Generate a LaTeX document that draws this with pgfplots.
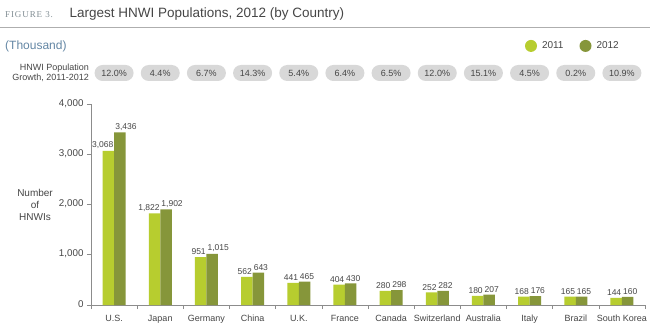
\documentclass[border=0pt]{standalone}
\usepackage{pgfplots}
\pgfplotsset{compat=1.18}
\usepackage{fontspec}
\setmainfont{Liberation Sans}
\newfontfamily\serifcaps[LetterSpace=10]{Liberation Serif}
\definecolor{cA}{RGB}{183,205,47}
\definecolor{cB}{RGB}{134,150,58}
\definecolor{axisgray}{RGB}{140,140,140}
\definecolor{txt}{RGB}{70,70,70}
\definecolor{pill}{RGB}{216,216,216}
\definecolor{thblue}{RGB}{100,135,165}
\definecolor{figgray}{RGB}{130,142,148}
\begin{document}
\begin{tikzpicture}
\useasboundingbox (0,0) rectangle (650pt,-336pt);
\fill[white] (0,0) rectangle (650pt,-336pt);
\node[anchor=west, text=figgray, font=\serifcaps\fontsize{9}{10}\selectfont, inner sep=0pt] at (5pt,-15pt) {FIGURE 3.};
\node[anchor=west, text=txt, font=\fontsize{13.5}{16}\selectfont] at (66pt,-14pt) {Largest HNWI Populations, 2012 (by Country)};
\draw[axisgray!70, line width=0.6pt] (0,-27pt) -- (650pt,-27pt);
\node[anchor=west, text=thblue, font=\fontsize{12}{14}\selectfont, inner sep=0pt] at (5pt,-46pt) {(Thousand)};
\node[anchor=east, align=right, text=txt, font=\fontsize{9}{10.5}\selectfont, inner sep=0pt] at (89pt,-73pt) {HNWI Population\\Growth, 2011-2012};
\begin{axis}[
  at={(91pt,-305pt)}, anchor=south west, scale only axis,
  width=554pt, height=201pt,
  xmin=-0.5, xmax=11.5, ymin=0, ymax=4000,
  axis lines*=left, clip=false,
  axis line style={axisgray, line width=0.6pt},
  xtick={-0.5,0.5,1.5,2.5,3.5,4.5,5.5,6.5,7.5,8.5,9.5,10.5,11.5},
  x tick label as interval,
  xticklabels={U.S.,Japan,Germany,China,U.K.,France,Canada,Switzerland,Australia,Italy,Brazil,South Korea},
  typeset ticklabels with strut,
  ytick={0,1000,2000,3000,4000},
  tick align=outside, major tick length=4pt,
  tick style={axisgray, line width=0.6pt},
  /pgf/number format/.cd, 1000 sep={,}, assume math mode=true, /pgfplots/.cd,
  x tick label style={font=\fontsize{9}{10}\selectfont, text=txt, yshift=-2pt},
  y tick label style={font=\fontsize{9.8}{11}\selectfont, text=txt},
  ylabel={Number\\of\\HNWIs},
  ylabel style={at={(axis description cs:-0.101,0.5)}, rotate=-90, anchor=center, align=center, font=\fontsize{10}{12}\selectfont, text=txt},
  legend style={at={(axis description cs:0.962,1.289)}, anchor=east, draw=none, fill=none, legend columns=2, font=\fontsize{10}{12}\selectfont, text=txt,
    /tikz/every odd column/.append style={column sep=3pt},
    /tikz/every even column/.append style={column sep=14pt}},
]
\addplot[ybar, bar width=11.5pt, bar shift=-5.75pt, fill=cA, draw=none,
  nodes near coords, nodes near coords style={anchor=south east, xshift=-0.5pt, font=\fontsize{8.5}{10}\selectfont, text=txt, inner xsep=0pt, inner ysep=2pt},
  legend image code/.code={\fill[cA] (4pt,0) circle (6pt);}]
coordinates {(0,3068) (1,1822) (2,951) (3,562) (4,441) (5,404) (6,280) (7,252) (8,180) (9,168) (10,165) (11,144)};
\addlegendentry{2011}
\addplot[ybar, bar width=11.5pt, bar shift=5.75pt, fill=cB, draw=none,
  nodes near coords, nodes near coords style={anchor=south west, xshift=1pt, font=\fontsize{8.5}{10}\selectfont, text=txt, inner xsep=0pt, inner ysep=2pt},
  legend image code/.code={\fill[cB] (4pt,0) circle (6pt);}]
coordinates {(0,3436) (1,1902) (2,1015) (3,643) (4,465) (5,430) (6,298) (7,282) (8,207) (9,176) (10,165) (11,160)};
\addlegendentry{2012}
\addplot[draw=none, mark=none, forget plot, nodes near coords, point meta=explicit symbolic,
  nodes near coords style={anchor=center, fill=pill, rounded corners=8pt, minimum width=39pt, minimum height=16pt, inner sep=1pt, text=txt, font=\fontsize{9}{10}\selectfont}]
table[meta=g] {
x y g
0 4617 12.0\%
1 4617 4.4\%
2 4617 6.7\%
3 4617 14.3\%
4 4617 5.4\%
5 4617 6.4\%
6 4617 6.5\%
7 4617 12.0\%
8 4617 15.1\%
9 4617 4.5\%
10 4617 0.2\%
11 4617 10.9\%
};
\end{axis}
\end{tikzpicture}
\end{document}
